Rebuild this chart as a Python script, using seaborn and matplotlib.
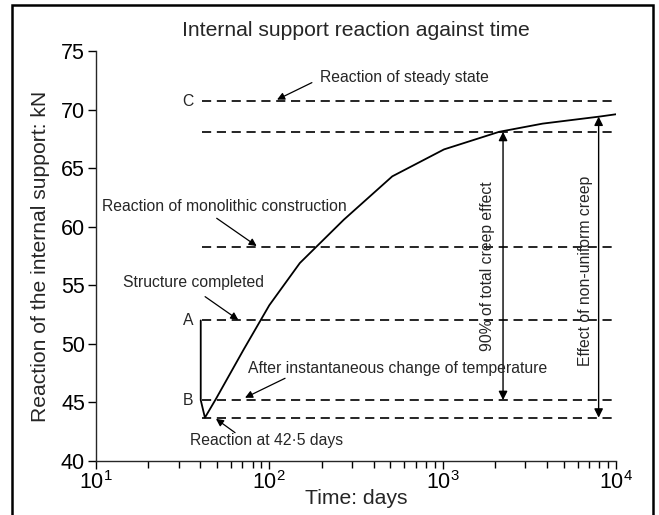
import matplotlib
matplotlib.use("Agg")
import matplotlib.pyplot as plt
from matplotlib.patches import Rectangle
from matplotlib.ticker import LogLocator, FixedLocator
import seaborn as sns
import numpy as np

# --------------------------------------------------
# Data
# --------------------------------------------------
days = [40.2, 40.2, 42.5, 49.2, 71, 100, 150, 269, 512, 1018, 2117, 3770, 8015, 10000]
reaction = [52.0, 45.2, 43.7, 45.3, 49.5, 53.3, 56.9, 60.6, 64.3, 66.6, 68.1, 68.8, 69.4, 69.6]

level_names = ["steady state", "90% creep", "monolithic", "A", "B", "42.5 days"]
level_values = [70.7, 68.1, 58.3, 52.0, 45.2, 43.7]
level_start = 40.8
level_end = 9700

arrow_days = [2230, 7940]
arrow_top = [68.1, 69.4]
arrow_bottom = [45.2, 43.7]
arrow_labels = ["90% of total creep effect", "Effect of non-uniform creep"]

yticks = [40, 45, 50, 55, 60, 65, 70, 75]

# --------------------------------------------------
# Style
# --------------------------------------------------
sns.set_style("ticks")
plt.rcParams["font.family"] = ["Liberation Sans", "DejaVu Sans"]
plt.rcParams["mathtext.fontset"] = "custom"
plt.rcParams["mathtext.rm"] = "Liberation Sans"

W, H = 659, 515
fig = plt.figure(figsize=(W / 100, H / 100), dpi=100)
ax = fig.add_axes([96 / W, 1 - 461 / H, (616 - 96) / W, (461 - 51) / H])

# --------------------------------------------------
# Plot
# --------------------------------------------------
sns.lineplot(x=days, y=reaction, sort=False, estimator=None, color="black", lw=1.3, ax=ax)

ax.hlines(level_values, level_start, level_end, colors="black", lw=1.2,
          linestyles=(0, (5.5, 3.4)))

for xd, yt, yb in zip(arrow_days, arrow_top, arrow_bottom):
    ax.annotate("", xy=(xd, yt), xytext=(xd, yb),
                arrowprops=dict(arrowstyle="<|-|>", color="black", lw=1.0,
                                mutation_scale=13, shrinkA=0, shrinkB=0))

ax.set_xscale("log")
ax.set_xlim(10, 1e4)
ax.set_ylim(40, 75)
ax.yaxis.set_major_locator(FixedLocator(yticks))
ax.xaxis.set_major_locator(LogLocator(base=10, numticks=10))
ax.xaxis.set_minor_locator(LogLocator(base=10, subs=np.arange(2, 10), numticks=10))
sns.despine(ax=ax)
for s in ["left", "bottom"]:
    ax.spines[s].set_linewidth(1.0)
ax.tick_params(axis="both", which="major", length=6, width=1.0, labelsize=15.5, pad=2,
               color="black", labelcolor="black")
ax.tick_params(axis="x", which="minor", length=5, width=1.0, color="black")
ax.tick_params(axis="x", which="major", pad=1)

ax.set_title("Internal support reaction against time", fontsize=15.2, pad=11)
ax.set_xlabel("Time: days", fontsize=15.2, labelpad=-3)
ax.set_ylabel("Reaction of the internal support: kN", fontsize=15.2, labelpad=8)

# --------------------------------------------------
# Annotations
# --------------------------------------------------
fs = 11.3
arrow_kw = dict(arrowstyle="-|>", color="black", lw=0.9, mutation_scale=11,
                shrinkA=0, shrinkB=0)

ax.text(196, 72.38, "Reaction of steady state", fontsize=fs, ha="left", va="baseline")
ax.annotate("", xy=(110.8, 70.85), xytext=(176, 72.3), arrowprops=arrow_kw)
ax.text(34.0, 70.3, "C", fontsize=fs, ha="center", va="baseline")

ax.text(10.8, 61.37, "Reaction of monolithic construction", fontsize=fs, ha="left", va="baseline")
ax.annotate("", xy=(84.5, 58.35), xytext=(49.7, 60.72), arrowprops=arrow_kw)

ax.text(14.4, 54.88, "Structure completed", fontsize=fs, ha="left", va="baseline")
ax.annotate("", xy=(66.2, 52.05), xytext=(42.6, 54.03), arrowprops=arrow_kw)
ax.text(34.0, 51.6, "A", fontsize=fs, ha="center", va="baseline")

ax.text(75.7, 47.54, "After instantaneous change of temperature", fontsize=fs,
        ha="left", va="baseline")
ax.annotate("", xy=(72.4, 45.4), xytext=(123.2, 47.06), arrowprops=arrow_kw)
ax.text(34.0, 44.8, "B", fontsize=fs, ha="center", va="baseline")

ax.text(34.9, 41.37, "Reaction at 42·5 days", fontsize=fs, ha="left", va="baseline")
ax.annotate("", xy=(49.2, 43.6), xytext=(63.4, 42.42), arrowprops=arrow_kw)

ax.text(1803, 56.65, arrow_labels[0], fontsize=fs, rotation=90, ha="center", va="center")
ax.text(6640, 56.2, arrow_labels[1], fontsize=fs, rotation=90, ha="center", va="center")

# outer frame
fig.patches.append(Rectangle((12 / W, -0.01), (653 - 12) / W, 1 - 5 / H + 0.01,
                             transform=fig.transFigure, fill=False,
                             edgecolor="black", lw=1.8))

fig.savefig("out.png", dpi=100)
plt.close(fig)
